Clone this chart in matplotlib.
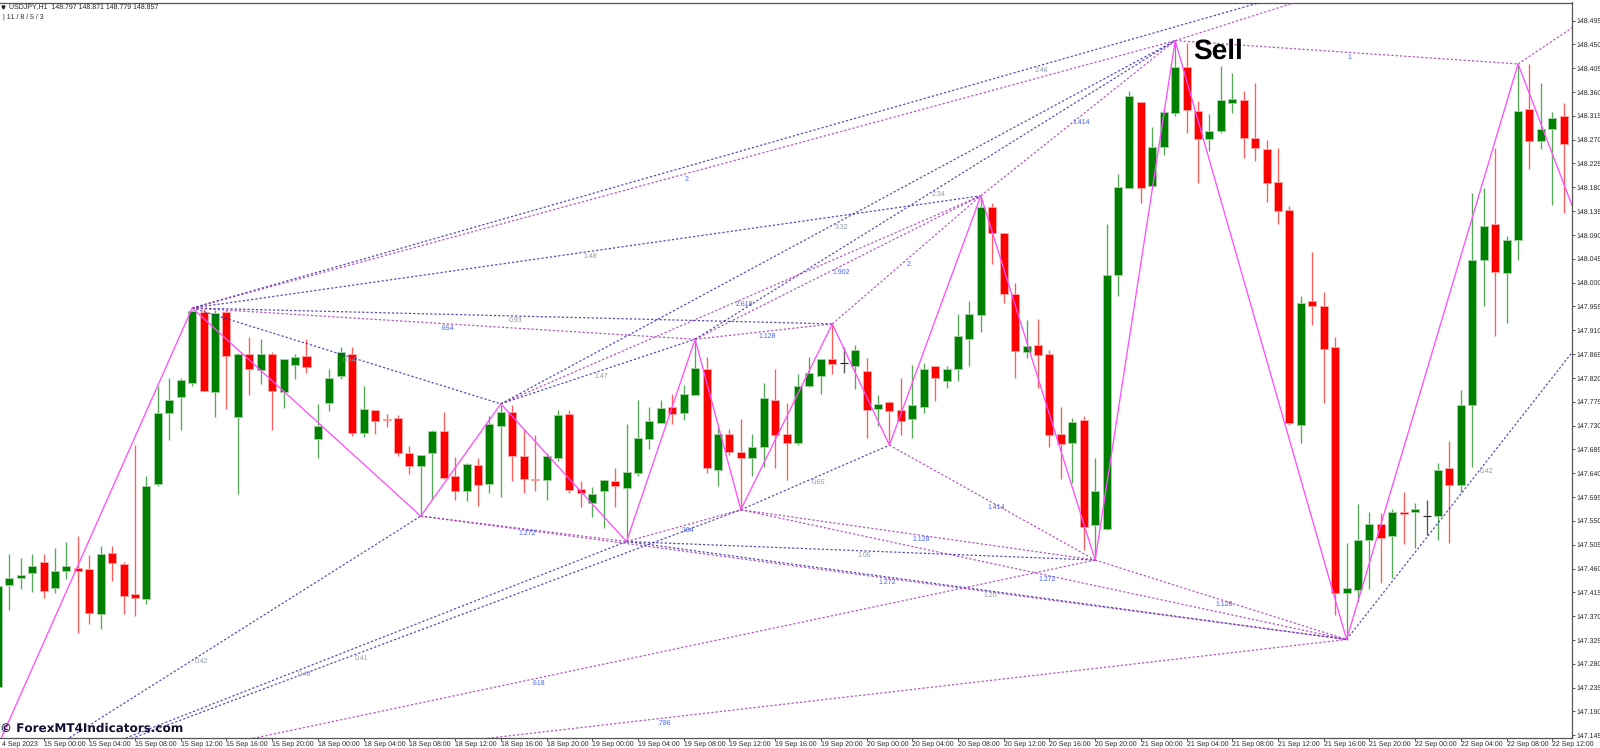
import matplotlib
matplotlib.use('Agg')
import matplotlib.pyplot as plt

W, H = 1600, 748

opens = [147.236,147.428,147.443,147.452,147.472,147.423,147.456,147.461,147.460,147.375,
         147.489,147.469,147.412,147.403,147.620,147.754,147.784,147.810,147.945,147.794,
         147.945,147.746,147.866,147.834,147.865,147.794,147.845,147.861,147.705,147.773,
         147.823,147.866,147.716,147.760,147.742,147.744,147.678,147.654,147.679,147.719,
         147.634,147.606,147.655,147.620,147.730,147.755,147.673,147.630,147.627,147.669,
         147.751,147.611,147.584,147.607,147.625,147.613,147.640,147.705,147.735,147.765,
         147.754,147.788,147.837,147.646,147.714,147.681,147.669,147.690,147.778,147.714,
         147.697,147.805,147.823,147.856,147.849,147.843,147.833,147.761,147.774,147.760,
         147.742,147.765,147.842,147.815,147.836,147.894,147.938,148.142,148.093,147.978,
         147.868,147.882,147.866,147.714,147.697,147.740,147.542,147.534,148.015,148.178,
         148.341,148.183,148.256,148.321,148.407,148.324,148.272,148.286,148.340,148.345,
         148.273,148.253,148.190,148.137,147.731,147.965,147.955,147.878,147.414,147.420,
         147.513,147.544,147.521,147.567,147.567,147.559,147.559,147.649,147.617,147.769,
         148.042,148.111,148.019,148.080,148.328,148.267,148.290,148.314]
highs = [147.427,147.487,147.480,147.487,147.487,147.499,147.510,147.521,147.486,147.503,
         147.502,147.472,147.693,147.635,147.804,147.820,147.820,147.948,147.950,147.948,
         147.948,147.867,147.897,147.894,147.869,147.856,147.865,147.894,147.770,147.836,
         147.878,147.878,147.805,147.760,147.751,147.750,147.692,147.675,147.722,147.756,
         147.671,147.660,147.668,147.748,147.769,147.769,147.723,147.712,147.679,147.760,
         147.760,147.625,147.614,147.627,147.650,147.733,147.778,147.766,147.778,147.790,
         147.807,147.893,147.859,147.725,147.723,147.743,147.715,147.810,147.837,147.772,
         147.827,147.860,147.856,147.920,147.879,147.882,147.858,147.788,147.776,147.819,
         147.845,147.848,147.843,147.843,147.941,147.965,148.162,148.151,148.094,147.999,
         147.930,147.931,147.873,147.766,147.745,147.748,147.668,148.111,148.205,148.362,
         148.341,148.293,148.329,148.457,148.453,148.343,148.319,148.409,148.396,148.362,
         148.377,148.270,148.254,148.145,147.975,148.057,147.982,147.897,147.508,147.581,
         147.567,147.564,147.572,147.605,147.583,147.590,147.659,147.700,147.797,148.170,
         148.178,148.254,148.088,148.411,148.413,148.377,148.322,148.339]
lows = [147.236,147.382,147.421,147.416,147.405,147.414,147.440,147.339,147.356,147.346,
        147.436,147.375,147.371,147.393,147.615,147.703,147.722,147.805,147.795,147.747,
        147.761,147.601,147.787,147.809,147.722,147.764,147.818,147.829,147.669,147.758,
        147.818,147.711,147.709,147.715,147.727,147.673,147.638,147.559,147.590,147.630,
        147.590,147.588,147.579,147.603,147.596,147.626,147.603,147.607,147.590,147.663,
        147.602,147.577,147.558,147.537,147.577,147.511,147.635,147.685,147.734,147.733,
        147.741,147.788,147.640,147.615,147.674,147.571,147.634,147.651,147.649,147.627,
        147.693,147.803,147.789,147.827,147.830,147.799,147.707,147.729,147.693,147.712,
        147.706,147.754,147.777,147.801,147.815,147.842,147.907,148.035,147.962,147.819,
        147.858,147.800,147.690,147.630,147.622,147.495,147.476,147.533,147.974,148.178,
        148.151,148.183,148.241,148.314,148.282,148.189,148.249,148.283,148.321,148.236,
        148.230,148.152,148.111,147.732,147.698,147.919,147.772,147.372,147.325,147.397,
        147.421,147.432,147.443,147.506,147.498,147.523,147.514,147.508,147.604,147.652,
        147.956,147.900,147.923,148.042,148.214,148.253,148.147,148.131]
closes = [147.427,147.443,147.448,147.465,147.418,147.455,147.464,147.455,147.376,147.487,
          147.471,147.409,147.405,147.616,147.754,147.778,147.816,147.947,147.796,147.943,
          147.861,147.866,147.836,147.866,147.796,147.855,147.859,147.841,147.729,147.820,
          147.869,147.716,147.761,147.739,147.740,147.678,147.654,147.675,147.720,147.631,
          147.607,147.657,147.618,147.733,147.756,147.673,147.630,147.627,147.673,147.750,
          147.608,147.602,147.601,147.627,147.615,147.643,147.707,147.738,147.763,147.751,
          147.789,147.839,147.649,147.715,147.681,147.668,147.690,147.782,147.712,147.698,
          147.805,147.829,147.855,147.846,147.849,147.873,147.760,147.770,147.758,147.739,
          147.768,147.836,147.819,147.836,147.899,147.940,148.142,148.093,147.979,147.870,
          147.880,147.864,147.712,147.696,147.736,147.539,147.606,148.015,148.180,148.353,
          148.179,148.256,148.322,148.408,148.326,148.271,148.286,148.344,148.347,148.274,
          148.254,148.188,148.135,147.734,147.962,147.955,147.874,147.413,147.423,147.513,
          147.544,147.518,147.567,147.563,147.573,147.559,147.647,147.617,147.769,148.043,
          148.107,148.020,148.081,148.324,148.267,148.290,148.311,148.261]

# zigzag turning points, bar number and price
zigzag_bars = [-2, 17, 37, 44, 55, 61, 65, 73, 78, 86, 96, 103, 118, 133, 138]
zigzag_prices = [147.028, 147.952, 147.559, 147.771, 147.511, 147.893, 147.571,
                 147.922, 147.693, 148.164, 147.476, 148.457, 147.326, 148.413, 148.130]

# far ends of the lines that leave the chart
far_bars = [165, 141.8, 118, 142]
far_prices = [148.866, 147.980, 148.560, 148.543]

# from, to, label ('' = none); indexes into zigzag + far ends
blue_links = [(1, 3, '0.54'), (1, 7, '0.93'), (1, 9, '1.48'), (1, 15, '2.46'),
              (3, 5, '1.47'), (3, 11, '3.32'), (5, 11, '2.34'),
              (0, 2, '0.42'), (0, 4, '0.48'), (0, 6, '0.41'),
              (6, 8, '0.65'), (4, 10, '1.05'), (4, 12, '1.20'), (12, 16, '0.42')]
purple_links = [(1, 5, '.654'), (1, 11, '2.'), (2, 4, '1.272'), (2, 12, '1.272'),
                (3, 9, '2.618'), (5, 7, '1.128'), (5, 9, '1.902'), (7, 9, '2.'),
                (9, 11, '1.414'), (4, 6, '.384'), (6, 10, '1.128'), (6, 12, '1.272'),
                (8, 10, '1.414'), (10, 12, '1.128'), (11, 13, '1.'),
                (0, 10, '.618'), (0, 12, '.786'), (11, 17, ''), (13, 18, '')]

x_tick_bars = [4, 8, 12, 16, 20, 24, 28, 32, 36, 40, 44, 48, 52, 56, 60, 64, 68, 72,
               76, 80, 84, 88, 92, 96, 100, 104, 108, 112, 116, 120, 124, 128, 132, 136]
x_tick_labels = ['15 Sep 00:00', '15 Sep 04:00', '15 Sep 08:00', '15 Sep 12:00', '15 Sep 16:00', '15 Sep 20:00',
                 '18 Sep 00:00', '18 Sep 04:00', '18 Sep 08:00', '18 Sep 12:00', '18 Sep 16:00', '18 Sep 20:00',
                 '19 Sep 00:00', '19 Sep 04:00', '19 Sep 08:00', '19 Sep 12:00', '19 Sep 16:00', '19 Sep 20:00',
                 '20 Sep 00:00', '20 Sep 04:00', '20 Sep 08:00', '20 Sep 12:00', '20 Sep 16:00', '20 Sep 20:00',
                 '21 Sep 00:00', '21 Sep 04:00', '21 Sep 08:00', '21 Sep 12:00', '21 Sep 16:00', '21 Sep 20:00',
                 '22 Sep 00:00', '22 Sep 04:00', '22 Sep 08:00', '22 Sep 12:00']
y_tick_labels = ['147.145', '147.190', '147.235', '147.280', '147.325', '147.370', '147.415', '147.460',
                 '147.505', '147.550', '147.595', '147.640', '147.685', '147.730', '147.775', '147.820',
                 '147.865', '147.910', '147.955', '148.000', '148.045', '148.090', '148.135', '148.180',
                 '148.225', '148.270', '148.315', '148.360', '148.405', '148.450', '148.495']

GREEN = '#008000'
RED = '#ff0000'
BLUE = '#2c22a6'
PURPLE = '#a42cb4'
MAGENTA = '#ff50ff'
TEXT = '#222222'

plt.rcParams['font.family'] = ['Liberation Sans', 'DejaVu Sans']
plt.rcParams['text.hinting'] = 'no_hinting'
plt.rcParams['text.hinting_factor'] = 1

fig = plt.figure(figsize=(W / 100, H / 100), dpi=100)
ax = fig.add_axes([0, 1 - 737.7 / H, 1572 / W, (737.7 - 2.5) / H])
ax.set_xlim(0.184, 137.72)
ax.set_ylim(147.1405, 148.529)

# candles
for i in range(len(opens)):
    o, h, l, c = opens[i], highs[i], lows[i], closes[i]
    if c > o:
        col, wick, edge = GREEN, '#55aa55', '#a5d0a5'
    elif c < o:
        col, wick, edge = RED, '#ff5c5c', '#ffa8a8'
    else:
        col, wick, edge = '#222222', '#555555', '#222222'
    ax.vlines(i, l, h, color=wick, lw=0.95, zorder=2)
    if c == o:
        ax.hlines(c, i - 0.35, i + 0.35, color=col, lw=0.8, zorder=3)
    else:
        ax.bar(i, abs(c - o), bottom=min(o, c), width=0.7, color=col,
               edgecolor=edge, linewidth=0.6, zorder=3)

# ratio lines between the turning points
all_bars = zigzag_bars + far_bars
all_prices = zigzag_prices + far_prices


def draw_links(links, line_color, text_color):
    for a, b, label in links:
        ax.plot([all_bars[a], all_bars[b]], [all_prices[a], all_prices[b]],
                color=line_color, lw=0.9, ls=(0, (1.8, 1.6)), alpha=0.8, zorder=4)
        if label:
            ax.annotate(label, ((all_bars[a] + all_bars[b]) / 2, (all_prices[a] + all_prices[b]) / 2),
                        xytext=(2.5, -3.2), textcoords='offset points', ha='center', va='center',
                        fontsize=5.0, color=text_color, zorder=6)


draw_links(blue_links, BLUE, '#8597a6')
draw_links(purple_links, PURPLE, '#3d5cff')

# zigzag on top
ax.plot(zigzag_bars, zigzag_prices, color=MAGENTA, lw=0.95, zorder=5)

ax.text(104.6, 148.436, 'Sell', family='Liberation Sans', fontsize=20.5, fontweight='bold',
        color='black', va='center', ha='left', zorder=7)

# axes look
ax.spines['left'].set_visible(False)
for side in ['top', 'right', 'bottom']:
    ax.spines[side].set_color('#555555')
    ax.spines[side].set_linewidth(0.9)
ax.yaxis.tick_right()
ax.set_yticks([float(t) for t in y_tick_labels])
ax.set_yticklabels(y_tick_labels)
ax.set_xticks(x_tick_bars)
ax.set_xticklabels(x_tick_labels, ha='left')
ax.tick_params(axis='y', length=2.2, width=0.6, pad=0.8, labelsize=4.8, labelcolor=TEXT, color='#333333')
ax.tick_params(axis='x', length=2.2, width=0.6, pad=0.6, labelsize=4.7, labelcolor=TEXT, color='#333333')
# the first date is cut by the left edge in the original, only this part shows
ax.annotate('4 Sep 2023', (0, 0), xycoords='axes fraction', xytext=(1.4, -2.8),
            textcoords='offset points', ha='left', va='top', fontsize=4.7, color=TEXT,
            annotation_clip=False)

# header and watermark
fig.text(9 / W, 1 - 7.5 / H, 'USDJPY,H1  148.797 148.871 148.779 148.857',
         fontsize=4.9, color=TEXT, va='center', ha='left')
fig.text(3 / W, 1 - 17 / H, '| 11 / 8 / 5 / 3', fontsize=4.9, color=TEXT, va='center', ha='left')
ax.plot([0.002], [0.9935], marker='v', markersize=2.2, color='#222222', transform=ax.transAxes, clip_on=False)
fig.text(0 / W, 1 - 728.5 / H, '© ForexMT4Indicators.com', family='DejaVu Sans', fontweight='bold',
         fontsize=8.8, color='#101030', va='center', ha='left', zorder=10)

fig.savefig('out.png', dpi=100, facecolor='white')
